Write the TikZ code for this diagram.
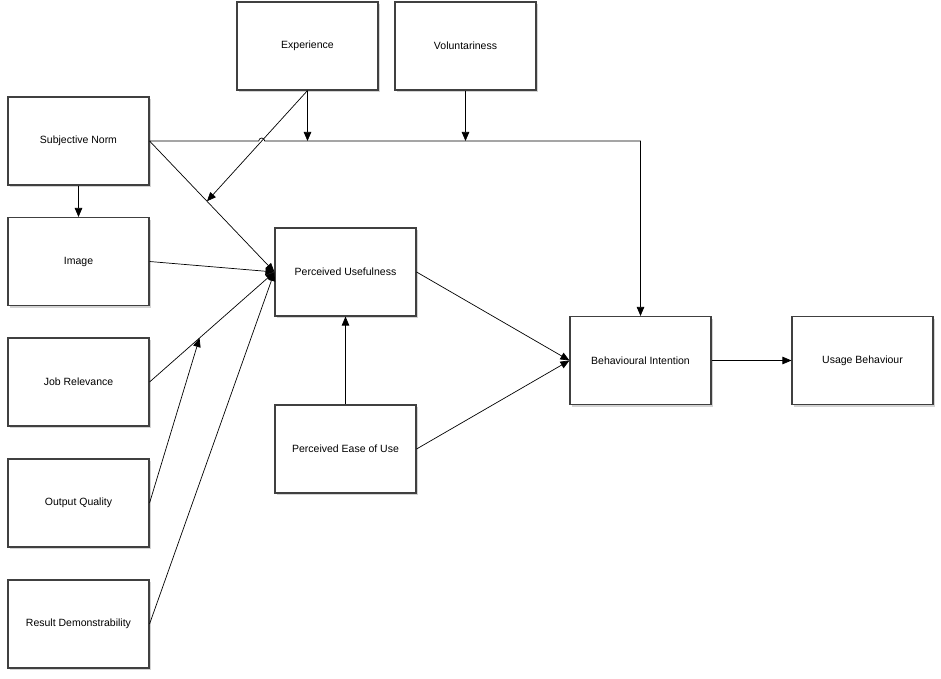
\documentclass[tikz,border=0pt]{standalone}
\usepackage{fontspec}
\setmainfont{Liberation Sans}
\usetikzlibrary{arrows.meta,shadows,calc}

\begin{document}
\begin{tikzpicture}[x=1pt, y=-1pt,
	box/.style={shape=rectangle, draw=black!75, line width=1.1pt, fill=white, minimum width=141pt, minimum height=88pt, inner sep=0pt, font=\fontsize{10.5}{12}\selectfont, drop shadow={shadow xshift=2pt, shadow yshift=-2pt, opacity=0.35}},
	>={Triangle[length=9pt,width=7.5pt]}, line width=0.7pt]
	\useasboundingbox (0,0) rectangle (941,679);

	\node (sn) at (78.5,141) [box] {Subjective Norm};
	\node (img) at (78.5,261.5) [box] {Image};
	\node (jr) at (78.5,382) [box] {Job Relevance};
	\node (oq) at (78.5,503) [box] {Output Quality};
	\node (rd) at (78.5,624) [box] {Result Demonstrability};
	\node (exp) at (307.5,46) [box] {Experience};
	\node (vol) at (465.5,46) [box] {Voluntariness};
	\node (pu) at (345.5,272) [box] {Perceived Usefulness};
	\node (peou) at (345.5,449) [box] {Perceived Ease of Use};
	\node (bi) at (640.5,360.5) [box] {Behavioural Intention};
	\node (ub) at (862.5,360.5) [box] {Usage Behaviour};

	\coordinate (corner) at (bi.north |- sn.east);
	\coordinate (snpu) at ($(sn.east)!0.46!(pu.west)$);
	\coordinate (jrpu) at ($(jr.east)!0.4!(pu.west)$);
	\coordinate (cross) at (intersection of exp.south--snpu and sn.east--corner);
	\coordinate (hopl) at ($(cross)+(-3,0)$);

	\path 	[->]	(sn)	edge	(img)
			(sn.east)	edge	(pu.west)
			(img.east)	edge	(pu.west)
			(jr.east)	edge	(pu.west)
			(rd.east)	edge	(pu.west)
			(oq.east)	edge	(jrpu)
			(exp.south)	edge	(snpu)
			(exp.south)	edge	(exp.south |- corner)
			(vol.south)	edge	(vol.south |- corner)
			(peou)	edge	(pu)
			(pu.east)	edge	(bi.west)
			(peou.east)	edge	(bi.west)
			(bi)	edge	(ub);

	\draw [->] (sn.east) -- (hopl) arc[start angle=180, end angle=0, radius=3pt] -- (corner) -- (bi.north);
\end{tikzpicture}
\end{document}
